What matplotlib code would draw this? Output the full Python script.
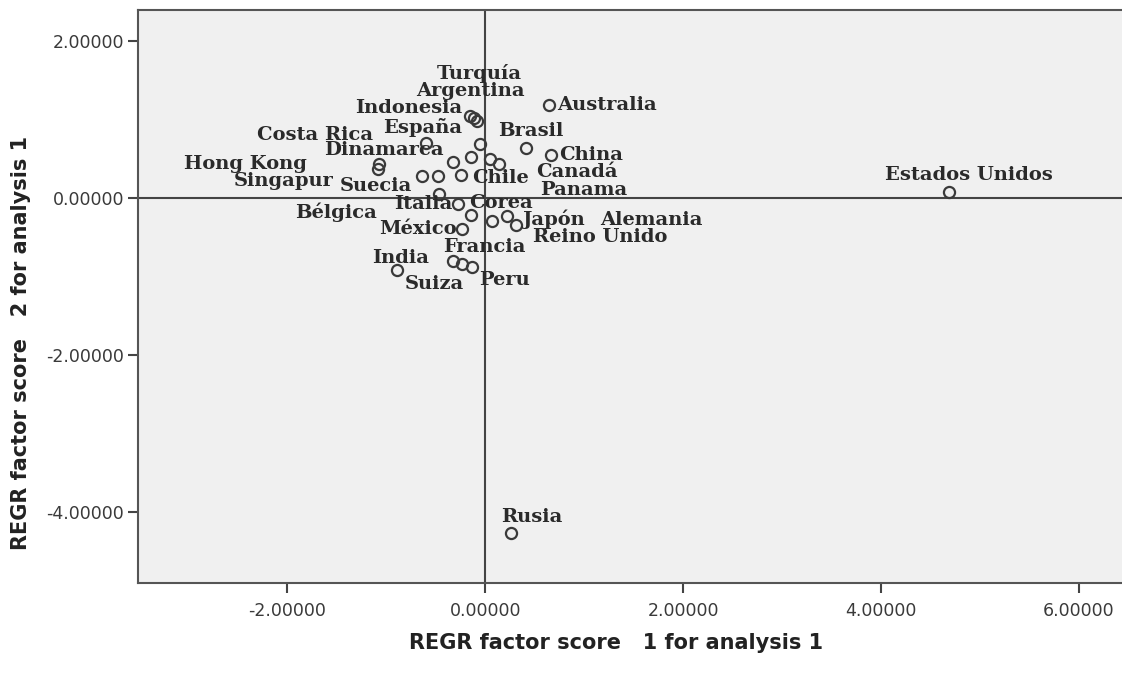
import matplotlib
matplotlib.use("Agg")
import matplotlib.pyplot as plt

# factor scores
countries = ["Estados Unidos", "Rusia", "Australia", "China", "Brasil",
             "Turquía", "Argentina", "Indonesia", "España", "Costa Rica",
             "Hong Kong", "Singapur", "Dinamarca", "", "Panama", "Canadá",
             "Suecia", "", "Chile", "Bélgica", "Italia", "Corea",
             "Reino Unido", "Alemania", "Japón", "México", "Francia",
             "Suiza", "Peru", "India"]
score1 = [4.69, 0.26, 0.65, 0.67, 0.41,
          -0.15, -0.11, -0.08, -0.05, -0.60,
          -1.07, -1.08, -0.33, -0.14, 0.05, 0.14,
          -0.64, -0.48, -0.24, -0.47, -0.27, -0.14,
          0.07, 0.22, 0.31, -0.23, -0.32,
          -0.23, -0.13, -0.89]
score2 = [0.08, -4.26, 1.18, 0.55, 0.63,
          1.04, 1.02, 0.98, 0.68, 0.70,
          0.43, 0.37, 0.45, 0.52, 0.49, 0.43,
          0.28, 0.28, 0.29, 0.05, -0.08, -0.22,
          -0.30, -0.23, -0.34, -0.40, -0.80,
          -0.84, -0.88, -0.92]

xticks = [-2, 0, 2, 4, 6]
yticks = [-4, -2, 0, 2]

# label placement (pixel offsets from the point, alignment)
label_pos = {
    "Estados Unidos": (20, 17, "center"), "Rusia": (21, 16, "center"),
    "Australia": (8, 0, "left"), "China": (8, 0, "left"),
    "Brasil": (5, 17, "center"), "Turquía": (9, 43, "center"),
    "Argentina": (-4, 27, "center"), "Indonesia": (-15, 13, "right"),
    "España": (-18, 17, "right"), "Costa Rica": (-53, 8, "right"),
    "Hong Kong": (-72, 0, "right"), "Singapur": (-45, -12, "right"),
    "Dinamarca": (-9, 12, "right"), "Panama": (50, -31, "left"),
    "Canadá": (37, -8, "left"), "Suecia": (-10, -10, "right"),
    "Chile": (11, -3, "left"), "Bélgica": (-62, -18, "right"),
    "Italia": (-6, 0, "right"), "Corea": (-2, 12, "left"),
    "Reino Unido": (41, -16, "left"), "Alemania": (93, -4, "left"),
    "Japón": (7, 5, "left"), "México": (-6, 0, "right"),
    "Francia": (31, 14, "center"), "Suiza": (-28, -20, "center"),
    "Peru": (7, -13, "left"), "India": (4, 12, "center"),
}

fig = plt.figure(figsize=(11.22, 6.81), dpi=100)
ax = fig.add_axes([138 / 1122, 1 - 583 / 681, 1 - 138 / 1122, 573 / 681])
ax.set_facecolor("#f0f0f0")

ax.axhline(0, color="#444444", lw=1.5, zorder=1)
ax.axvline(0, color="#444444", lw=1.5, zorder=1)

ax.plot(score1, score2, "o", ms=8, mfc="none", mec="#3a3a3a", mew=1.6,
        zorder=3)

for name, x, y in zip(countries, score1, score2):
    if not name:
        continue
    dx, dy, ha = label_pos[name]
    ax.annotate(name, (x, y), xytext=(dx, dy), textcoords="offset pixels",
                ha=ha, va="center", fontsize=14, fontweight="bold",
                family="DejaVu Serif", color="#2a2a2a", zorder=4)

ax.set_xlim(-3.508, 6.435)
ax.set_ylim(-4.90, 2.39)
ax.set_xticks(xticks)
ax.set_yticks(yticks)
ax.set_xticklabels(["%.5f" % t for t in xticks])
ax.set_yticklabels(["%.5f" % t for t in yticks])
ax.tick_params(direction="out", length=7, width=1.5, color="#444444",
               labelsize=12.5, labelcolor="#3a3a3a", pad=3)
ax.tick_params(axis="x", pad=7)

for side in ["left", "bottom", "top"]:
    ax.spines[side].set_color("#555555")
    ax.spines[side].set_linewidth(1.5)
ax.spines["right"].set_visible(False)

ax.set_xlabel("REGR factor score   1 for analysis 1", fontsize=15,
              fontweight="bold", color="#222222")
ax.set_ylabel("REGR factor score   2 for analysis 1", fontsize=15,
              fontweight="bold", color="#222222")
ax.xaxis.set_label_coords(0.486, -0.087)
ax.yaxis.set_label_coords(-0.109, 0.419)

fig.savefig("out.png", dpi=100)
